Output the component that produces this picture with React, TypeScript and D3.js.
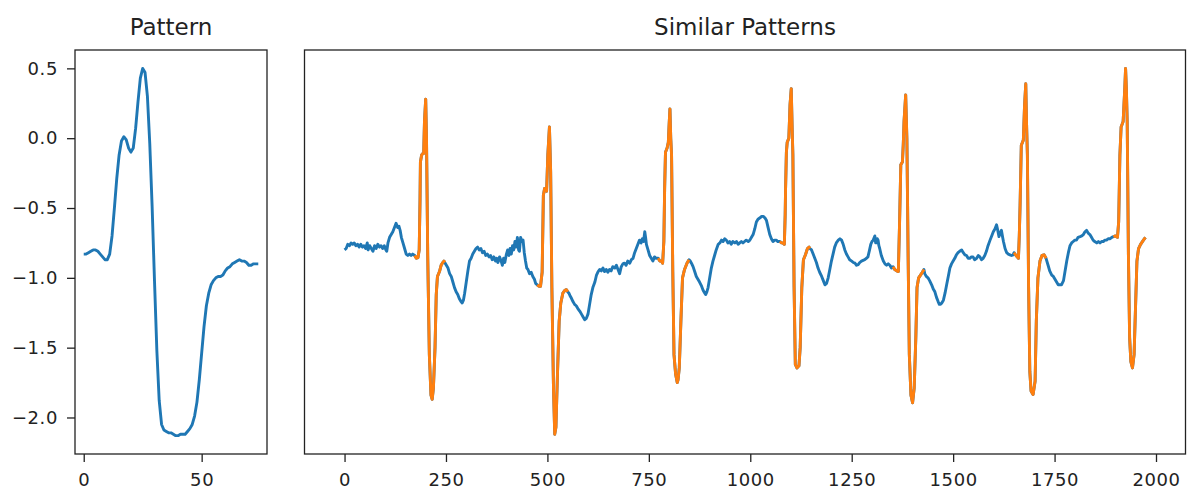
import { useEffect, useRef } from 'react';
import * as d3 from 'd3';

// query pattern (75 samples)
const patternValues = [
  -0.83, -0.83, -0.82, -0.81, -0.80, -0.80, -0.81, -0.83, -0.85, -0.87,
  -0.87, -0.83, -0.70, -0.50, -0.29, -0.12, -0.02, 0.01, -0.01, -0.07,
  -0.10, -0.07, 0.07, 0.26, 0.43, 0.50, 0.47, 0.30, -0.04, -0.49,
  -1.02, -1.52, -1.88, -2.05, -2.09, -2.10, -2.11, -2.11, -2.12, -2.13,
  -2.13, -2.12, -2.12, -2.12, -2.10, -2.08, -2.05, -1.99, -1.89, -1.73,
  -1.54, -1.35, -1.20, -1.11, -1.05, -1.02, -1.00, -0.99, -0.99, -0.98,
  -0.95, -0.93, -0.92, -0.90, -0.89, -0.88, -0.87, -0.88, -0.88, -0.89,
  -0.91, -0.91, -0.90, -0.90, -0.90,
];

// long signal, [index, value]
const signal: [number, number][] = [
  [0, -0.80], [4, -0.79], [8, -0.76], [12, -0.77], [16, -0.75], [20, -0.76], [24, -0.75], [28, -0.77],
  [32, -0.76], [36, -0.78], [40, -0.76], [44, -0.78], [48, -0.77], [52, -0.79], [56, -0.75], [58, -0.80],
  [62, -0.77], [66, -0.79], [70, -0.81], [74, -0.77], [78, -0.79], [82, -0.76], [86, -0.78], [90, -0.77],
  [94, -0.79], [98, -0.77], [102, -0.80], [104, -0.81], [107, -0.75], [111, -0.71], [115, -0.69], [119, -0.67],
  [123, -0.64], [127, -0.61], [131, -0.64], [134, -0.63], [137, -0.66], [140, -0.71], [144, -0.75], [148, -0.79],
  [152, -0.83], [156, -0.84], [160, -0.83], [164, -0.84], [168, -0.83], [173, -0.84],
  [177, -0.86], [181, -0.855], [184, -0.80], [186, -0.45], [187, -0.17], [190, -0.12], [193, -0.11], [195, -0.11],
  [197, 0.12], [200, 0.28], [202, 0.00], [205, -0.84], [209, -1.55], [213, -1.84], [216, -1.87], [219, -1.79],
  [223, -1.50], [226, -1.12], [229, -0.99], [234, -0.955], [238, -0.91], [241, -0.895], [245, -0.88], [247, -0.89],
  [251, -0.91], [255, -0.93], [259, -0.97], [263, -0.99], [267, -1.03], [271, -1.07], [275, -1.10], [279, -1.12],
  [283, -1.15], [287, -1.17], [290, -1.18], [293, -1.16], [296, -1.11], [300, -1.03], [304, -0.95], [308, -0.88],
  [312, -0.86], [316, -0.83], [320, -0.81], [324, -0.79], [328, -0.78], [332, -0.80], [336, -0.79], [340, -0.82],
  [344, -0.81], [348, -0.84], [352, -0.83], [356, -0.85], [360, -0.84], [364, -0.87], [368, -0.85], [372, -0.88],
  [375, -0.86], [378, -0.89], [382, -0.85], [386, -0.88], [389, -0.91], [392, -0.86], [395, -0.89], [399, -0.83],
  [402, -0.80], [405, -0.84], [408, -0.79], [411, -0.83], [414, -0.77], [417, -0.80], [420, -0.74], [423, -0.78],
  [426, -0.71], [429, -0.80], [431, -0.81], [434, -0.71], [437, -0.74], [440, -0.73], [443, -0.82], [446, -0.88],
  [449, -0.93], [452, -0.94], [456, -0.97], [460, -0.96], [464, -0.99], [468, -1.01], [471, -1.04], [475, -1.05],
  [479, -1.06], [483, -1.06], [487, -0.96], [489, -0.60], [490, -0.41], [493, -0.36], [496, -0.37], [498, -0.38],
  [501, -0.12], [505, 0.08], [508, -0.24], [511, -1.07], [515, -1.79], [518, -2.12], [521, -2.07], [525, -1.67],
  [529, -1.31], [533, -1.18], [538, -1.11], [543, -1.09], [547, -1.085], [550, -1.10],
  [553, -1.11], [556, -1.13], [559, -1.145], [563, -1.17], [567, -1.19], [571, -1.20], [575, -1.22], [580, -1.24],
  [584, -1.26], [588, -1.28], [592, -1.30], [596, -1.29], [600, -1.26], [604, -1.19], [608, -1.12], [612, -1.07],
  [617, -1.03], [621, -0.98], [625, -0.955], [629, -0.94], [633, -0.95], [637, -0.93], [641, -0.955], [645, -0.94],
  [649, -0.96], [653, -0.94], [657, -0.95], [661, -0.92], [666, -0.93], [670, -0.91], [674, -0.94], [678, -0.97],
  [682, -0.92], [686, -0.90], [690, -0.895], [694, -0.91], [698, -0.88], [703, -0.895], [707, -0.87], [711, -0.86],
  [715, -0.82], [719, -0.79], [723, -0.76], [727, -0.73], [731, -0.75], [734, -0.72], [737, -0.74], [740, -0.67],
  [742, -0.71], [744, -0.76], [748, -0.80], [752, -0.84], [756, -0.86], [760, -0.88], [764, -0.85], [768, -0.86],
  [773, -0.86], [777, -0.88], [781, -0.88], [784, -0.895], [787, -0.74], [789, -0.35], [791, -0.10], [795, -0.07],
  [798, -0.03], [800, 0.10], [802, 0.21], [804, 0.00], [806, -0.12], [809, -0.955], [812, -1.55], [816, -1.69],
  [820, -1.75], [822, -1.73], [825, -1.645], [829, -1.31], [833, -1.00], [838, -0.94], [844, -0.895], [849, -0.87],
  [852, -0.88], [855, -0.895], [859, -0.92], [863, -0.955], [867, -0.99], [871, -1.01], [875, -1.03], [880, -1.06],
  [884, -1.09], [888, -1.11], [890, -1.12], [893, -1.10], [896, -1.07], [900, -1.00], [904, -0.93], [908, -0.88],
  [912, -0.84], [916, -0.80], [921, -0.76], [925, -0.75], [929, -0.73], [933, -0.74], [937, -0.72], [941, -0.73],
  [945, -0.75], [949, -0.74], [953, -0.76], [957, -0.74], [962, -0.75], [966, -0.74], [970, -0.76], [974, -0.75],
  [978, -0.74], [982, -0.75], [986, -0.74], [990, -0.73], [995, -0.74], [999, -0.73], [1003, -0.71], [1007, -0.69],
  [1011, -0.65], [1015, -0.60], [1019, -0.58], [1024, -0.57], [1028, -0.56], [1032, -0.56], [1036, -0.57], [1040, -0.59],
  [1044, -0.64], [1048, -0.69], [1052, -0.72], [1056, -0.74], [1060, -0.73], [1064, -0.73], [1068, -0.74], [1073, -0.74],
  [1077, -0.75], [1080, -0.75], [1084, -0.76], [1086, -0.55], [1087, -0.36], [1089, -0.10], [1091, -0.03], [1095, 0.00],
  [1098, 0.24], [1101, 0.355], [1103, 0.10], [1105, -0.12], [1108, -1.07], [1111, -1.62], [1115, -1.645], [1120, -1.63],
  [1123, -1.50], [1127, -1.07], [1131, -0.87], [1136, -0.835], [1141, -0.79], [1145, -0.78], [1147, -0.79],
  [1151, -0.80], [1155, -0.83], [1159, -0.86], [1163, -0.89], [1167, -0.93], [1171, -0.96], [1176, -0.99], [1180, -1.02],
  [1184, -1.05], [1188, -1.04], [1192, -1.00], [1196, -0.94], [1200, -0.88], [1204, -0.83], [1208, -0.78], [1212, -0.75],
  [1217, -0.73], [1221, -0.72], [1225, -0.73], [1229, -0.76], [1233, -0.80], [1237, -0.83], [1241, -0.85], [1245, -0.87],
  [1250, -0.88], [1254, -0.89], [1258, -0.895], [1262, -0.91], [1266, -0.905], [1270, -0.89], [1274, -0.88], [1278, -0.875],
  [1282, -0.87], [1286, -0.86], [1290, -0.85], [1294, -0.80], [1297, -0.76], [1300, -0.74], [1303, -0.73], [1307, -0.70],
  [1309, -0.75], [1311, -0.75], [1313, -0.72], [1315, -0.73], [1317, -0.77], [1319, -0.79], [1323, -0.84], [1328, -0.88],
  [1332, -0.90], [1336, -0.91], [1340, -0.90], [1344, -0.91], [1348, -0.93], [1352, -0.92],
  [1356, -0.94], [1361, -0.95], [1365, -0.955], [1368, -0.60], [1371, -0.19], [1375, -0.17], [1377, -0.05], [1379, 0.12],
  [1383, 0.31], [1386, 0.00], [1389, -0.84], [1392, -1.55], [1396, -1.84], [1400, -1.895], [1404, -1.79], [1408, -1.43],
  [1411, -1.07], [1415, -1.00], [1422, -0.97], [1428, -0.94],
  [1430, -0.97], [1434, -0.99], [1438, -1.00], [1442, -1.02], [1447, -1.05], [1451, -1.08], [1455, -1.10], [1459, -1.14],
  [1463, -1.17], [1466, -1.19], [1469, -1.19], [1472, -1.18], [1476, -1.16], [1480, -1.11], [1484, -1.05], [1488, -0.99],
  [1492, -0.93], [1496, -0.90], [1500, -0.88], [1504, -0.86], [1508, -0.835], [1512, -0.82], [1516, -0.81], [1521, -0.80],
  [1525, -0.82], [1529, -0.835], [1533, -0.84], [1537, -0.86], [1541, -0.86], [1545, -0.85], [1549, -0.85], [1553, -0.87],
  [1558, -0.86], [1562, -0.84], [1566, -0.85], [1570, -0.87], [1574, -0.86], [1578, -0.84], [1582, -0.81], [1586, -0.77],
  [1591, -0.73], [1595, -0.70], [1599, -0.67], [1603, -0.65], [1607, -0.62], [1610, -0.66], [1613, -0.705], [1616, -0.68],
  [1619, -0.66], [1622, -0.71], [1624, -0.74], [1628, -0.79], [1632, -0.82], [1636, -0.83], [1640, -0.835], [1644, -0.84],
  [1648, -0.835], [1650, -0.82],
  [1655, -0.84], [1661, -0.86], [1663, -0.70], [1665, -0.48], [1668, -0.05], [1673, -0.014], [1676, 0.236], [1679, 0.39],
  [1681, 0.10], [1683, -0.12], [1686, -1.07], [1689, -1.67], [1692, -1.81], [1697, -1.835], [1702, -1.74], [1705, -1.31],
  [1709, -1.00], [1714, -0.88], [1719, -0.84], [1724, -0.835], [1729, -0.86],
  [1734, -0.91], [1738, -0.95], [1743, -0.98], [1747, -0.99], [1751, -1.01], [1755, -1.03], [1759, -1.05], [1763, -1.05],
  [1767, -1.05], [1772, -1.02], [1776, -0.95], [1780, -0.88], [1784, -0.82], [1788, -0.77], [1792, -0.75], [1796, -0.74],
  [1800, -0.73], [1804, -0.73], [1808, -0.71], [1813, -0.705], [1817, -0.70], [1821, -0.69], [1825, -0.67], [1829, -0.66],
  [1833, -0.68], [1837, -0.69], [1841, -0.71], [1845, -0.73], [1849, -0.74], [1854, -0.75], [1858, -0.74], [1862, -0.75],
  [1866, -0.74], [1870, -0.74], [1874, -0.73], [1878, -0.73], [1882, -0.72], [1887, -0.72], [1891, -0.71], [1895, -0.705],
  [1900, -0.70], [1905, -0.71], [1908, -0.60], [1911, -0.12], [1914, 0.08], [1919, 0.12], [1923, 0.355], [1925, 0.50],
  [1927, 0.35], [1929, 0.12], [1932, -0.835], [1935, -1.43], [1938, -1.60], [1942, -1.645], [1946, -1.55], [1949, -1.26],
  [1953, -0.88], [1957, -0.79], [1962, -0.76], [1969, -0.73], [1974, -0.71],
];

// where the pattern was found in the signal
const matchStarts = [173, 475, 773, 1073, 1352, 1650, 1895];
const matchEnds = [247, 550, 849, 1147, 1428, 1729, 1974];

const yTicks = [0.5, 0.0, -0.5, -1.0, -1.5, -2.0];
const patternXTicks = [0, 50];
const signalXTicks = [0, 250, 500, 750, 1000, 1250, 1500, 1750, 2000];

const BLUE = '#1f77b4';
const ORANGE = '#ff7f0e';
const FONT = 'DejaVu Sans, sans-serif';

// matplotlib style 5% margins
const padded = ([a, b]: [number, number]): [number, number] => {
  const m = (b - a) * 0.05;
  return [a - m, b + m];
};

const App = () => {
  const svgRef = useRef<SVGSVGElement>(null);

  useEffect(() => {
    const svg = d3.select(svgRef.current);
    svg.selectAll('*').remove();

    const top = 50;
    const bottom = 454;

    const allY = [...patternValues, ...signal.map(d => d[1])];
    const y = d3.scaleLinear()
      .domain(padded(d3.extent(allY) as [number, number]))
      .range([bottom, top]);

    const xp = d3.scaleLinear()
      .domain(padded([0, patternValues.length - 1]))
      .range([75, 267]);

    const xs = d3.scaleLinear()
      .domain(padded(d3.extent(signal, d => d[0]) as [number, number]))
      .range([304.5, 1185.5]);

    const styleAxis = (g: any) => {
      g.select('.domain').remove();
      g.selectAll('.tick line').attr('stroke', '#222').attr('stroke-width', 1.3);
      g.selectAll('.tick text')
        .attr('fill', '#222')
        .attr('font-size', 18)
        .attr('letter-spacing', 0.6)
        .attr('font-family', FONT);
    };

    const title = (text: string, x0: number, x1: number) => {
      svg.append('text')
        .attr('x', (x0 + x1) / 2)
        .attr('y', 35)
        .attr('text-anchor', 'middle')
        .attr('font-family', FONT)
        .attr('font-size', 23)
        .attr('fill', '#222')
        .text(text);
    };

    // --- left: pattern
    svg.append('g')
      .attr('transform', `translate(75,0)`)
      .call(d3.axisLeft(y).tickValues(yTicks).tickFormat(d3.format('.1f')).tickSize(8).tickPadding(9))
      .call(styleAxis);

    svg.append('g')
      .attr('transform', `translate(0,${bottom})`)
      .call(d3.axisBottom(xp).tickValues(patternXTicks).tickSize(8).tickPadding(11))
      .call(styleAxis);

    const patternLine = d3.line<number>()
      .x((_, i) => xp(i))
      .y(d => y(d));

    svg.append('path')
      .datum(patternValues)
      .attr('d', patternLine)
      .attr('fill', 'none')
      .attr('stroke', BLUE)
      .attr('stroke-width', 2.9)
      .attr('stroke-linejoin', 'round');

    svg.append('rect')
      .attr('x', 75).attr('y', top)
      .attr('width', 192).attr('height', bottom - top)
      .attr('fill', 'none').attr('stroke', '#222').attr('stroke-width', 1.3);

    title('Pattern', 75, 267);

    // --- right: similar patterns
    svg.append('g')
      .attr('transform', `translate(0,${bottom})`)
      .call(d3.axisBottom(xs).tickValues(signalXTicks).tickFormat(d3.format('d')).tickSize(8).tickPadding(11))
      .call(styleAxis);

    const signalLine = d3.line<[number, number]>()
      .x(d => xs(d[0]))
      .y(d => y(d[1]));

    svg.append('path')
      .datum(signal)
      .attr('d', signalLine)
      .attr('fill', 'none')
      .attr('stroke', BLUE)
      .attr('stroke-width', 2.9)
      .attr('stroke-linejoin', 'round');

    // overlay the matches in orange
    svg.selectAll('path.match')
      .data(matchStarts.map((s, i) => signal.filter(d => d[0] >= s && d[0] <= matchEnds[i])))
      .enter()
      .append('path')
      .attr('class', 'match')
      .attr('d', signalLine)
      .attr('fill', 'none')
      .attr('stroke', ORANGE)
      .attr('stroke-width', 2.9)
      .attr('stroke-linejoin', 'round');

    svg.append('rect')
      .attr('x', 304.5).attr('y', top)
      .attr('width', 881).attr('height', bottom - top)
      .attr('fill', 'none').attr('stroke', '#222').attr('stroke-width', 1.3);

    title('Similar Patterns', 304.5, 1185.5);
  }, []);

  return (
    <svg
      ref={svgRef}
      width={1199}
      height={491}
      style={{ position: 'absolute', left: 0, top: 0, background: '#fff' }}
    />
  );
};

export default App;
